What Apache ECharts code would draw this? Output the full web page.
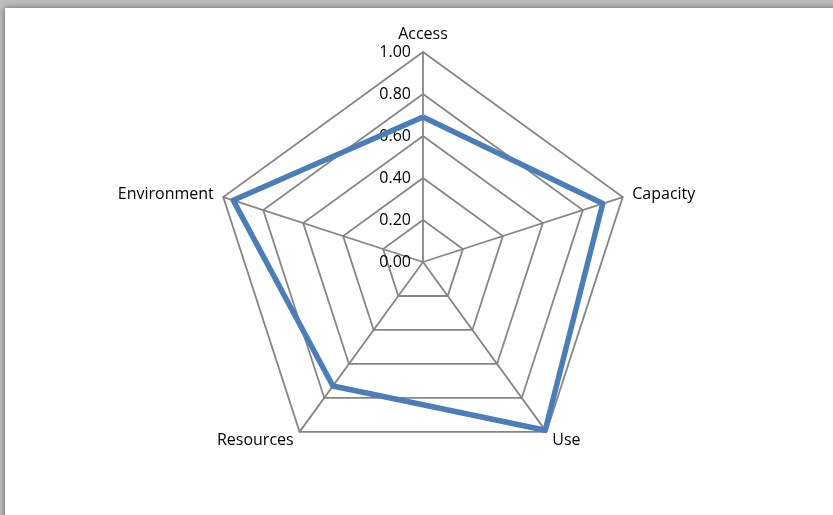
<!DOCTYPE html>
<html><head><meta charset="utf-8">
<script src="https://cdn.jsdelivr.net/npm/echarts@6/dist/echarts.min.js"></script>
<style>html,body{margin:0;padding:0;background:#fff}#c{width:833px;height:515px}</style>
</head><body><div id="c"></div>
<script>
// Indicators (counterclockwise from the top, ECharts order)
const categories = ['Access', 'Environment', 'Resources', 'Use', 'Capacity'];
const values = [0.69, 0.95, 0.73, 0.99, 0.90];
const maxValue = 1.0;

const chart = echarts.init(document.getElementById('c'));
chart.setOption({
  animation: false,
  backgroundColor: '#ffffff',
  graphic: [
    { type: 'rect', left: 0, top: 0, shape: { width: 833, height: 515 }, style: { fill: '#bdbdbd' }, z: -10 },
    { type: 'rect', left: 5, top: 8, shape: { width: 840, height: 520 },
      style: { fill: '#ffffff', shadowBlur: 6, shadowColor: 'rgba(0,0,0,0.5)' }, z: -9 }
  ],
  radar: {
    center: [423, 262],
    radius: 210,
    startAngle: 90,
    splitNumber: 5,
    shape: 'polygon',
    indicator: categories.map((n, i) => ({
      name: n, max: maxValue, min: 0,
      axisLabel: { show: i === 0 }
    })),
    axisName: { color: '#000', fontSize: 16, fontFamily: 'Open Sans, Noto Sans, sans-serif' },
    nameGap: 10,
    splitLine: { lineStyle: { color: '#868686', width: 1.8 } },
    splitArea: { show: false },
    axisLine: { lineStyle: { color: '#868686', width: 1.8 } },
    axisTick: { show: false },
    axisLabel: {
      show: true, color: '#000', fontSize: 16, margin: 12,
      fontFamily: 'Open Sans, Noto Sans, sans-serif',
      formatter: v => Number(v).toFixed(2)
    }
  },
  series: [{
    type: 'radar',
    symbol: 'none',
    lineStyle: { color: '#4a7ebb', width: 5.5 },
    itemStyle: { color: '#4a7ebb' },
    data: [{ value: values }]
  }]
});
</script></body></html>
